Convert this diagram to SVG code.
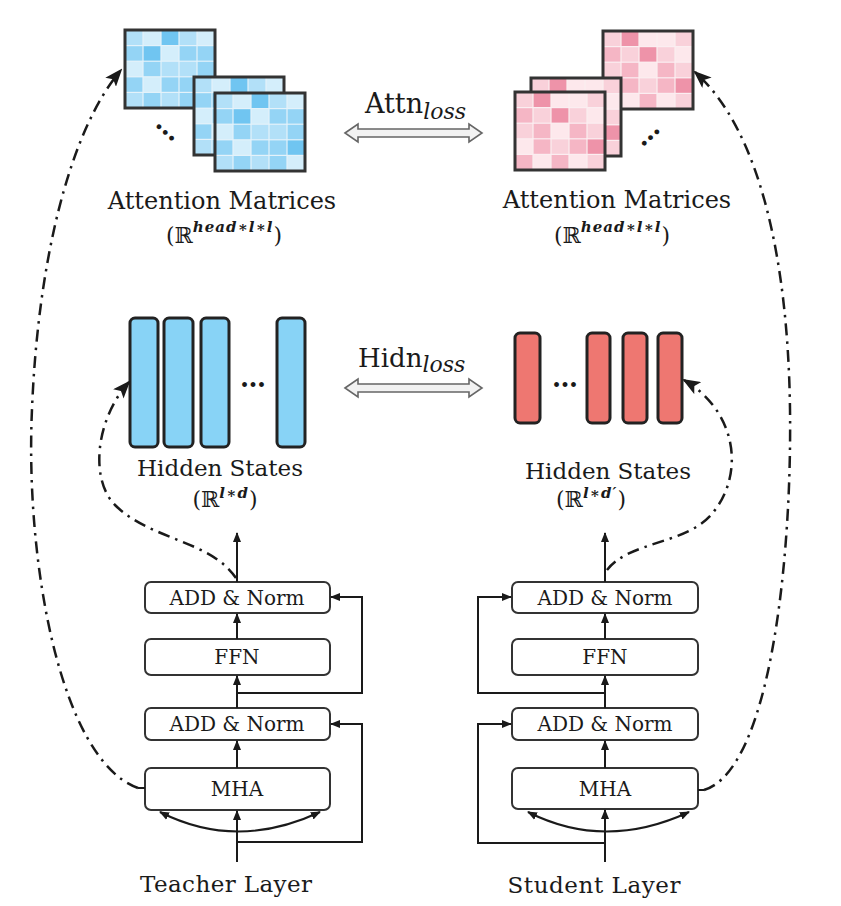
<svg xmlns="http://www.w3.org/2000/svg" xmlns:xlink="http://www.w3.org/1999/xlink" width="841" height="906" viewBox="0 0 841 906">
<style>
text{font-family:"DejaVu Serif","Liberation Serif",serif;fill:#1a1a1a}
.lbl{font-size:24px}
.sub{font-size:22px}
.sup{font-size:15px;font-style:italic;font-weight:bold;letter-spacing:1px}
.box{fill:#fff;stroke:#333;stroke-width:2}
.bt{font-size:20px;text-anchor:middle}
.ln{fill:none;stroke:#1a1a1a;stroke-width:2}
.dd{fill:none;stroke:#1a1a1a;stroke-width:2.5;stroke-dasharray:12 6 2.5 6}
.hb{fill:#88d3f6;stroke:#222;stroke-width:3}
.hr{fill:#ee7771;stroke:#222;stroke-width:3}
.dbl{fill:#f2f2f2;stroke:#666;stroke-width:1.6}
.b1{fill:#d4eefb}.b2{fill:#b2e0f8}.b3{fill:#94d4f5}.b4{fill:#70c5f1}
.p1{fill:#fde8ec}.p2{fill:#f9d1da}.p3{fill:#f5b6c5}.p4{fill:#ee93a9}
.frame{fill:none;stroke:#333;stroke-width:3}
.dots{font-size:26px;font-weight:bold;text-anchor:middle}
</style>
<defs>
<marker id="ah" markerUnits="userSpaceOnUse" markerWidth="10" markerHeight="10" refX="9" refY="5" orient="auto-start-reverse" viewBox="0 0 10 10">
<path d="M0,1 L10,5 L0,9 Z" fill="#1a1a1a"/>
</marker>
<marker id="ahb" markerUnits="userSpaceOnUse" markerWidth="18" markerHeight="14" refX="16" refY="7" orient="auto" viewBox="0 0 18 14">
<path d="M0,0 L18,7 L0,14 L4,7 Z" fill="#1a1a1a"/>
</marker>
<symbol id="mb" viewBox="0 0 90 78" style="overflow:visible">
<rect width="90" height="78" fill="#e4f2fa"/>
<g transform="translate(0.6,0.6)">
<rect class="b2" x="0" y="0" width="16.8" height="14.4"/><rect class="b1" x="18" y="0" width="16.8" height="14.4"/><rect class="b4" x="36" y="0" width="16.8" height="14.4"/><rect class="b2" x="54" y="0" width="16.8" height="14.4"/><rect class="b1" x="72" y="0" width="16.8" height="14.4"/>
<rect class="b3" x="0" y="15.6" width="16.8" height="14.4"/><rect class="b4" x="18" y="15.6" width="16.8" height="14.4"/><rect class="b1" x="36" y="15.6" width="16.8" height="14.4"/><rect class="b3" x="54" y="15.6" width="16.8" height="14.4"/><rect class="b3" x="72" y="15.6" width="16.8" height="14.4"/>
<rect class="b1" x="0" y="31.2" width="16.8" height="14.4"/><rect class="b3" x="18" y="31.2" width="16.8" height="14.4"/><rect class="b2" x="36" y="31.2" width="16.8" height="14.4"/><rect class="b2" x="54" y="31.2" width="16.8" height="14.4"/><rect class="b3" x="72" y="31.2" width="16.8" height="14.4"/>
<rect class="b3" x="0" y="46.8" width="16.8" height="14.4"/><rect class="b1" x="18" y="46.8" width="16.8" height="14.4"/><rect class="b3" x="36" y="46.8" width="16.8" height="14.4"/><rect class="b3" x="54" y="46.8" width="16.8" height="14.4"/><rect class="b4" x="72" y="46.8" width="16.8" height="14.4"/>
<rect class="b2" x="0" y="62.4" width="16.8" height="14.4"/><rect class="b3" x="18" y="62.4" width="16.8" height="14.4"/><rect class="b2" x="36" y="62.4" width="16.8" height="14.4"/><rect class="b3" x="54" y="62.4" width="16.8" height="14.4"/><rect class="b1" x="72" y="62.4" width="16.8" height="14.4"/>
</g>
<rect class="frame" width="90" height="78"/>
</symbol>
<symbol id="mp" viewBox="0 0 90 78" style="overflow:visible">
<rect width="90" height="78" fill="#fbeef1"/>
<g transform="translate(0.6,0.6)">
<rect class="p2" x="0" y="0" width="16.8" height="14.4"/><rect class="p4" x="18" y="0" width="16.8" height="14.4"/><rect class="p1" x="36" y="0" width="16.8" height="14.4"/><rect class="p1" x="54" y="0" width="16.8" height="14.4"/><rect class="p2" x="72" y="0" width="16.8" height="14.4"/>
<rect class="p3" x="0" y="15.6" width="16.8" height="14.4"/><rect class="p2" x="18" y="15.6" width="16.8" height="14.4"/><rect class="p4" x="36" y="15.6" width="16.8" height="14.4"/><rect class="p2" x="54" y="15.6" width="16.8" height="14.4"/><rect class="p1" x="72" y="15.6" width="16.8" height="14.4"/>
<rect class="p2" x="0" y="31.2" width="16.8" height="14.4"/><rect class="p3" x="18" y="31.2" width="16.8" height="14.4"/><rect class="p1" x="36" y="31.2" width="16.8" height="14.4"/><rect class="p3" x="54" y="31.2" width="16.8" height="14.4"/><rect class="p2" x="72" y="31.2" width="16.8" height="14.4"/>
<rect class="p1" x="0" y="46.8" width="16.8" height="14.4"/><rect class="p3" x="18" y="46.8" width="16.8" height="14.4"/><rect class="p2" x="36" y="46.8" width="16.8" height="14.4"/><rect class="p3" x="54" y="46.8" width="16.8" height="14.4"/><rect class="p4" x="72" y="46.8" width="16.8" height="14.4"/>
<rect class="p3" x="0" y="62.4" width="16.8" height="14.4"/><rect class="p1" x="18" y="62.4" width="16.8" height="14.4"/><rect class="p3" x="36" y="62.4" width="16.8" height="14.4"/><rect class="p1" x="54" y="62.4" width="16.8" height="14.4"/><rect class="p2" x="72" y="62.4" width="16.8" height="14.4"/>
</g>
<rect class="frame" width="90" height="78"/>
</symbol>
</defs>
<rect width="841" height="906" fill="#fff"/>

<g id="teacher-attention">
<use href="#mb" x="125" y="30" width="90" height="78"/>
<use href="#mb" x="194" y="77" width="90" height="78"/>
<use href="#mb" x="215" y="93" width="90" height="78"/>
<text class="dots" x="164" y="134" transform="rotate(42 164 134)">…</text>
<text class="lbl" x="222" y="209" text-anchor="middle">Attention Matrices</text>
<text class="sub" x="224" y="243" text-anchor="middle">(ℝ<tspan class="sup" dy="-11">head∗l∗l</tspan><tspan dy="11">)</tspan></text>
</g>

<g id="student-attention">
<use href="#mp" x="603" y="31" width="90" height="78"/>
<use href="#mp" x="531" y="78" width="90" height="78"/>
<use href="#mp" x="515" y="92" width="90" height="78"/>
<text class="dots" x="652" y="139" transform="rotate(-42 652 139)">…</text>
<text class="lbl" x="617" y="208" text-anchor="middle">Attention Matrices</text>
<text class="sub" x="612" y="243" text-anchor="middle">(ℝ<tspan class="sup" dy="-11">head∗l∗l</tspan><tspan dy="11">)</tspan></text>
</g>

<g id="attn-loss">
<text x="365" y="113" font-size="27">Attn<tspan font-size="22" font-style="italic" dy="6">loss</tspan></text>
<path class="dbl" d="M345,133 L358,124 L358,129 L469,129 L469,124 L482,133 L469,142 L469,137 L358,137 L358,142 Z"/>
</g>

<g id="teacher-hidden">
<rect class="hb" x="130" y="318" width="28" height="129" rx="5"/>
<rect class="hb" x="164" y="318" width="29" height="129" rx="5"/>
<rect class="hb" x="201" y="318" width="28" height="129" rx="5"/>
<rect class="hb" x="277" y="318" width="28" height="129" rx="5"/>
<text class="dots" x="253" y="387">…</text>
<text x="220" y="476" font-size="23" text-anchor="middle">Hidden States</text>
<text class="sub" x="225" y="507" text-anchor="middle">(ℝ<tspan class="sup" dy="-9">l∗d</tspan><tspan dy="9">)</tspan></text>
</g>

<g id="student-hidden">
<rect class="hr" x="515" y="333" width="25" height="90" rx="5"/>
<rect class="hr" x="587" y="333" width="23" height="90" rx="5"/>
<rect class="hr" x="623" y="333" width="24" height="90" rx="5"/>
<rect class="hr" x="658" y="333" width="24" height="90" rx="5"/>
<text class="dots" x="565" y="387">…</text>
<text x="608" y="479" font-size="23" text-anchor="middle">Hidden States</text>
<text class="sub" x="591" y="507" text-anchor="middle">(ℝ<tspan class="sup" dy="-9">l∗d′</tspan><tspan dy="9">)</tspan></text>
</g>

<g id="hidn-loss">
<text x="358" y="367" font-size="26">Hidn<tspan font-size="22" font-style="italic" dy="5">loss</tspan></text>
<path class="dbl" d="M345,388 L358,379 L358,384 L469,384 L469,379 L482,388 L469,397 L469,392 L358,392 L358,397 Z"/>
</g>

<g id="teacher-layer">
<g id="t-addnorm2"><rect class="box" x="145" y="582" width="185" height="31" rx="6"/><text class="bt" x="237" y="605">ADD &amp; Norm</text></g>
<g id="t-ffn"><rect class="box" x="145" y="639" width="185" height="36" rx="6"/><text class="bt" x="237" y="664">FFN</text></g>
<g id="t-addnorm1"><rect class="box" x="145" y="708" width="185" height="32" rx="6"/><text class="bt" x="237" y="731">ADD &amp; Norm</text></g>
<g id="t-mha"><rect class="box" x="145" y="768" width="185" height="42" rx="6"/><text class="bt" x="237" y="796">MHA</text></g>
<text x="226" y="892" font-size="23" text-anchor="middle" textLength="172">Teacher Layer</text>
</g>

<g id="student-layer">
<g id="s-addnorm2"><rect class="box" x="512" y="582" width="186" height="31" rx="6"/><text class="bt" x="605" y="605">ADD &amp; Norm</text></g>
<g id="s-ffn"><rect class="box" x="512" y="639" width="186" height="36" rx="6"/><text class="bt" x="605" y="664">FFN</text></g>
<g id="s-addnorm1"><rect class="box" x="512" y="708" width="186" height="32" rx="6"/><text class="bt" x="605" y="731">ADD &amp; Norm</text></g>
<g id="s-mha"><rect class="box" x="512" y="768" width="186" height="41" rx="6"/><text class="bt" x="605" y="796">MHA</text></g>
<text x="594" y="893" font-size="23" text-anchor="middle" textLength="173">Student Layer</text>
</g>

<g id="connectors">
<path class="ln" d="M237,862 V811" marker-end="url(#ah)"/>
<path class="ln" d="M237,768 V741" marker-end="url(#ah)"/>
<path class="ln" d="M237,708 V676" marker-end="url(#ah)"/>
<path class="ln" d="M237,639 V614" marker-end="url(#ah)"/>
<path class="ln" d="M237,582 V533" marker-end="url(#ah)"/>
<path class="ln" d="M237,842 H362 V724 H331" marker-end="url(#ah)"/>
<path class="ln" d="M237,693 H362 V597 H331" marker-end="url(#ah)"/>
<path class="ln" d="M160,812 Q237,851 320,812" marker-start="url(#ah)" marker-end="url(#ah)"/>
<path class="ln" d="M605,862 V810" marker-end="url(#ah)"/>
<path class="ln" d="M605,768 V741" marker-end="url(#ah)"/>
<path class="ln" d="M605,708 V676" marker-end="url(#ah)"/>
<path class="ln" d="M605,639 V614" marker-end="url(#ah)"/>
<path class="ln" d="M605,582 V533" marker-end="url(#ah)"/>
<path class="ln" d="M605,843 H478 V724 H511" marker-end="url(#ah)"/>
<path class="ln" d="M605,693 H478 V597 H511" marker-end="url(#ah)"/>
<path class="ln" d="M528,812 Q605,851 689,812" marker-start="url(#ah)" marker-end="url(#ah)"/>
<path class="ln" d="M145,788 H138"/>
<path class="dd" d="M138,788 C60,760 25,560 32,409 C38,260 70,130 121,70" marker-end="url(#ahb)"/>
<path class="dd" d="M236,578 C210,540 150,540 115,505 C90,480 95,420 129,382" marker-end="url(#ahb)"/>
<path class="ln" d="M698,790 H704"/>
<path class="dd" d="M704,790 C770,770 792,560 790,409 C788,260 760,130 695,72" marker-end="url(#ahb)"/>
<path class="dd" d="M607,570 C630,540 690,545 715,510 C745,470 735,410 684,380" marker-end="url(#ahb)"/>
</g>
</svg>
